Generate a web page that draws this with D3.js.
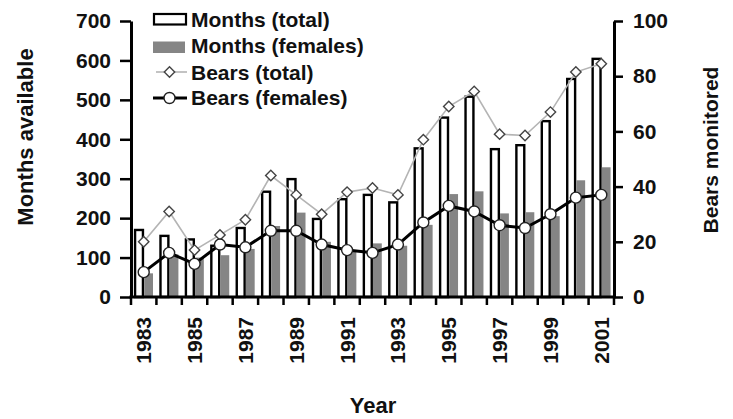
<!DOCTYPE html>
<html>
<head>
<meta charset="utf-8">
<script src="https://cdn.jsdelivr.net/npm/d3@7"></script>
<style>
  html, body { margin: 0; padding: 0; background: #fff; }
  svg { display: block; font-family: "Liberation Sans", Arial, sans-serif; font-weight: bold; }
</style>
</head>
<body>
<svg id="chart" width="733" height="419"></svg>
<script>
const years = [1983,1984,1985,1986,1987,1988,1989,1990,1991,1992,1993,1994,1995,1996,1997,1998,1999,2000,2001];
const monthsTotal   = [170,155,146,130,175,267,299,198,248,259,240,377,455,508,375,385,446,553,604];
const monthsFemales = [60,108,100,106,122,180,214,140,115,136,130,183,261,268,212,215,205,296,329];
const bearsTotal    = [20,31,17,22.5,28,44,37,30,38,39.5,37,57,69,74.5,59,58.5,67,81.5,84.5];
const bearsFemales  = [9,16,12,19,18,24,24,19,17,16,19,27,33,31,26,25,30,36,37];
const leftTicks  = [0,100,200,300,400,500,600,700];
const rightTicks = [0,20,40,60,80,100];
const yearLabels = [1983,1985,1987,1989,1991,1993,1995,1997,1999,2001];

const svg = d3.select("#chart");
const plotLeft = 131, plotRight = 614, plotTop = 21, plotBottom = 297;

const x = d3.scaleBand().domain(years).range([plotLeft, plotRight]).padding(0);
const bw = x.bandwidth();
const yL = d3.scaleLinear().domain([0, 700]).range([plotBottom, plotTop]);
const yR = d3.scaleLinear().domain([0, 100]).range([plotBottom, plotTop]);

// bars
svg.append("g").selectAll("rect").data(years).join("rect")
  .attr("x", (d) => x(d) + 0.16 * bw)
  .attr("y", (d, i) => yL(monthsTotal[i]))
  .attr("width", 0.31 * bw)
  .attr("height", (d, i) => plotBottom - yL(monthsTotal[i]))
  .attr("fill", "#fff").attr("stroke", "#000").attr("stroke-width", 2.4);

svg.append("g").selectAll("rect").data(years).join("rect")
  .attr("x", (d) => x(d) + 0.52 * bw)
  .attr("y", (d, i) => yL(monthsFemales[i]))
  .attr("width", 0.345 * bw)
  .attr("height", (d, i) => plotBottom - yL(monthsFemales[i]))
  .attr("fill", "#858585");

const cx = (d) => x(d) + bw / 2;

// Bears total
svg.append("path").datum(years)
  .attr("d", d3.line().x(cx).y((d, i) => yR(bearsTotal[i])))
  .attr("fill", "none").attr("stroke", "#b4b4b4").attr("stroke-width", 1.6);
const diamond = "M0,-5.2L5.2,0L0,5.2L-5.2,0Z";
svg.append("g").selectAll("path").data(years).join("path")
  .attr("transform", (d, i) => `translate(${cx(d)},${yR(bearsTotal[i])})`)
  .attr("d", diamond).attr("fill", "#fff").attr("stroke", "#444").attr("stroke-width", 1.4);

// Bears females
svg.append("path").datum(years)
  .attr("d", d3.line().x(cx).y((d, i) => yR(bearsFemales[i])))
  .attr("fill", "none").attr("stroke", "#000").attr("stroke-width", 3);
svg.append("g").selectAll("circle").data(years).join("circle")
  .attr("cx", cx).attr("cy", (d, i) => yR(bearsFemales[i])).attr("r", 5.5)
  .attr("fill", "#fff").attr("stroke", "#222").attr("stroke-width", 1.4);

// axes
function styleAxis(g) {
  g.selectAll("path.domain").attr("stroke", "#000").attr("stroke-width", 3);
  g.selectAll(".tick line").attr("stroke", "#000").attr("stroke-width", 2.5);
  g.selectAll(".tick text").attr("fill", "#111").style("font-size", "21px").style("font-weight", "bold")
    .style("font-family", '"Liberation Sans", Arial, sans-serif');
}
const gL = svg.append("g").attr("transform", `translate(${plotLeft},0)`)
  .call(d3.axisLeft(yL).tickValues(leftTicks).tickSize(11).tickSizeOuter(0).tickPadding(9));
styleAxis(gL);
const gR = svg.append("g").attr("transform", `translate(${plotRight},0)`)
  .call(d3.axisRight(yR).tickValues(rightTicks).tickSize(9).tickSizeOuter(0).tickPadding(10));
styleAxis(gR);

// x axis: ticks at band boundaries
const gX = svg.append("g");
gX.append("line").attr("x1", plotLeft - 1.5).attr("x2", plotRight + 1.5).attr("y1", plotBottom).attr("y2", plotBottom)
  .attr("stroke", "#000").attr("stroke-width", 3);
const bounds = years.map((d) => x(d)).concat([plotRight]);
gX.selectAll("line.t").data(bounds).join("line").attr("class", "t")
  .attr("x1", (d) => d).attr("x2", (d) => d).attr("y1", plotBottom).attr("y2", plotBottom + 8)
  .attr("stroke", "#000").attr("stroke-width", 2.5);
gX.selectAll("text").data(yearLabels).join("text")
  .attr("transform", (d) => `translate(${cx(d)},317) rotate(-90)`)
  .attr("text-anchor", "end").attr("dy", "0.36em")
  .style("font-size", "21px").attr("fill", "#111").text((d) => d);

// titles
svg.append("text").attr("transform", "translate(33,137) rotate(-90)").attr("text-anchor", "middle")
  .style("font-size", "22px").attr("fill", "#111").text("Months available");
svg.append("text").attr("transform", "translate(718,150) rotate(-90)").attr("text-anchor", "middle")
  .style("font-size", "21px").attr("fill", "#111").text("Bears monitored");
svg.append("text").attr("x", 373).attr("y", 413).attr("text-anchor", "middle")
  .style("font-size", "22px").attr("fill", "#111").text("Year");

// legend
const lg = svg.append("g");
const legendLabels = ["Months (total)", "Months (females)", "Bears (total)", "Bears (females)"];
const legendBase = [27, 53, 80, 105];
lg.append("rect").attr("x", 154).attr("y", 14).attr("width", 32).attr("height", 10.5)
  .attr("fill", "#fff").attr("stroke", "#000").attr("stroke-width", 2.2);
lg.append("rect").attr("x", 153).attr("y", 41.5).attr("width", 32).attr("height", 11.5).attr("fill", "#858585");
lg.append("line").attr("x1", 156).attr("x2", 187).attr("y1", 72).attr("y2", 72)
  .attr("stroke", "#b4b4b4").attr("stroke-width", 1.6);
lg.append("path").attr("transform", "translate(169.5,72)").attr("d", diamond)
  .attr("fill", "#fff").attr("stroke", "#444").attr("stroke-width", 1.4);
lg.append("line").attr("x1", 153).attr("x2", 187).attr("y1", 98).attr("y2", 98)
  .attr("stroke", "#000").attr("stroke-width", 3);
lg.append("circle").attr("cx", 169.5).attr("cy", 98).attr("r", 5.5)
  .attr("fill", "#fff").attr("stroke", "#222").attr("stroke-width", 1.4);
lg.selectAll("text").data(legendLabels).join("text")
  .attr("x", 191).attr("y", (d, i) => legendBase[i])
  .style("font-size", "21px").attr("fill", "#111").text((d) => d);
</script>
</body>
</html>
